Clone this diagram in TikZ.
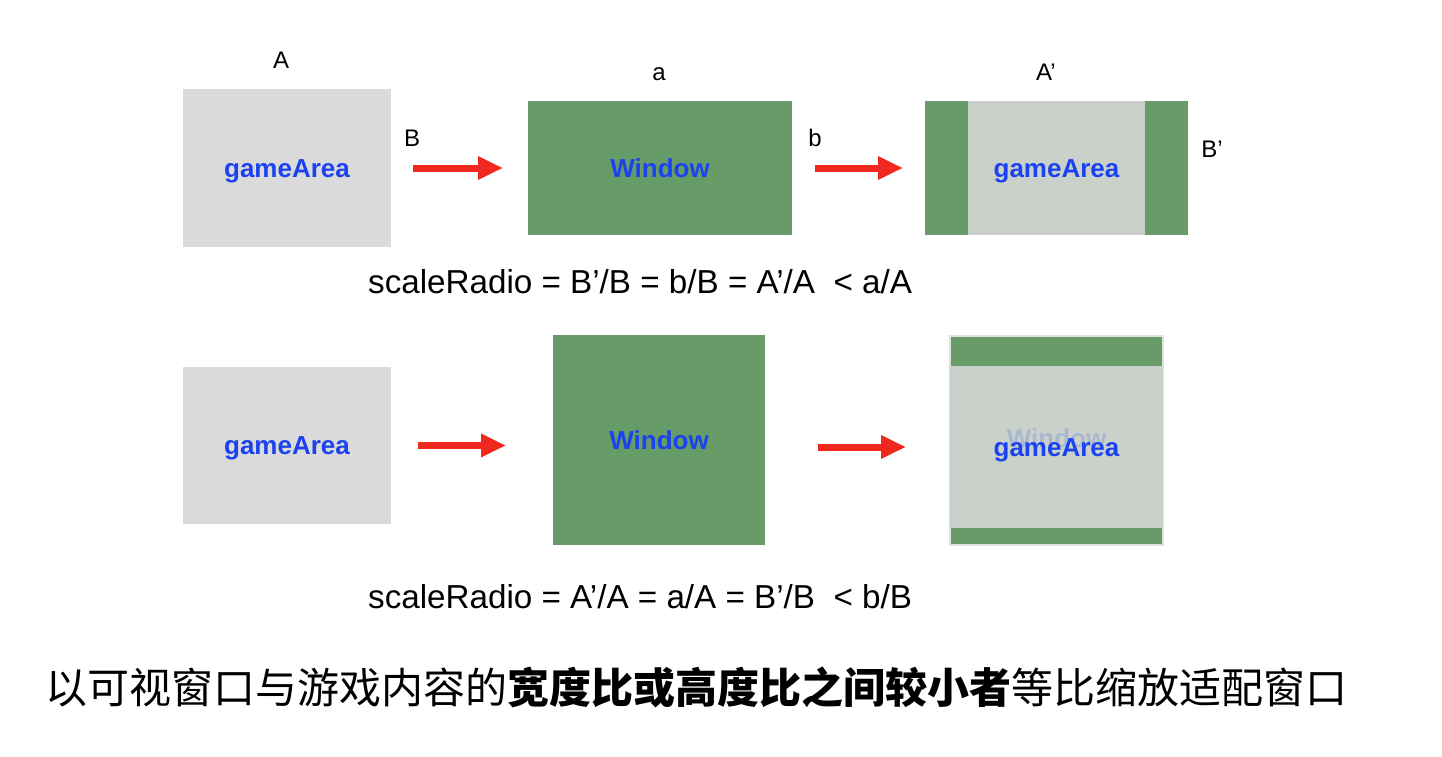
\documentclass[tikz,border=0pt]{standalone}
\usepackage{fontspec}
\setmainfont{Liberation Sans}
\newfontfamily\cjk{Noto Sans CJK SC}
\usetikzlibrary{arrows.meta}

\definecolor{areagrey}{RGB}{218,218,218}
\definecolor{fitgrey}{RGB}{202,209,202}
\definecolor{wingreen}{RGB}{103,155,103}
\definecolor{textblue}{RGB}{26,66,240}
\definecolor{arrowred}{RGB}{240,40,30}

\tikzset{
	box/.style={inner sep=0pt, outer sep=0pt, text=textblue,
		text height=18.6pt, text depth=0pt,
		font=\bfseries\fontsize{26}{30}\selectfont},
	gamebox/.style={box, fill=areagrey},
	windowbox/.style={box, fill=wingreen},
	fitbox/.style={box, fill=fitgrey},
	redarrow/.style={draw=arrowred, line width=7pt,
		-{Triangle[length=25pt,width=22pt]}},
	sidelabel/.style={inner sep=0pt, font=\fontsize{24}{28}\selectfont},
	formula/.style={inner sep=0pt, font=\fontsize{33.2}{40}\selectfont}
}

\begin{document}
\begin{tikzpicture}[x=1pt,y=-1pt]
	\useasboundingbox[fill=white] (0,0) rectangle (1442,757);

	\begin{scope} % wide window
		\node[gamebox, minimum width=208pt, minimum height=158pt] (g1) at (287,168) {gameArea};
		\node[windowbox, minimum width=264pt, minimum height=134pt] (w1) at (660,168) {Window};
		\node[windowbox, minimum width=263pt, minimum height=134pt] (f1) at (1056.5,168) {};
		\node[fitbox, minimum width=177pt, minimum height=134pt] (f1in) at (f1) {gameArea};

		\draw[redarrow, shorten <=22pt, shorten >=25pt] (g1.east) -- (w1.west);
		\draw[redarrow, shorten <=23pt, shorten >=22pt] (w1.east) -- (f1.west);

		\node[sidelabel] (lA) at (281,60) {A};
		\node[sidelabel] (lB) at (412,138) {B};
		\node[sidelabel] (la) at (659,74) {a};
		\node[sidelabel] (lb) at (815,138) {b};
		\node[sidelabel] (lA2) at (1046,72) {A’};
		\node[sidelabel] (lB2) at (1212,149) {B’};

		\node[formula, anchor=base west] (r1) at (368,293) {scaleRadio = B’/B = b/B = A’/A\ \ < a/A};
	\end{scope}

	\begin{scope} % tall window
		\node[gamebox, minimum width=208pt, minimum height=157pt] (g2) at (287,445.5) {gameArea};
		\node[windowbox, minimum width=212pt, minimum height=210pt] (w2) at (659,440) {Window};
		\node[windowbox, draw=black!12, line width=1.2pt, minimum width=213pt, minimum height=209pt] (f2) at (1056.5,440.5) {};
		\node[fitbox, minimum width=213pt, minimum height=162pt] (f2in) at (1056.5,447) {};
		\node[box, text=textblue!18!fitgrey] (ghost) at (1056.5,438) {Window};
		\node[box] (f2txt) at (f2in) {gameArea};

		\draw[redarrow, shorten <=27pt, shorten >=47pt] (g2.east) -- (g2.east -| w2.west);
		\draw[redarrow, shorten <=53pt, shorten >=44pt] (w2.east |- f2in) -- (f2in.west);

		\node[formula, anchor=base west] (r2) at (368,608) {scaleRadio = A’/A = a/A = B’/B\ \ < b/B};
	\end{scope}

	% caption
	\node[inner sep=0pt, anchor=base west, font=\cjk\fontsize{42}{50}\selectfont] (note) at (45,703)
		{以可视窗口与游戏内容的{\bfseries 宽度比或高度比之间较小者}等比缩放适配窗口};
\end{tikzpicture}
\end{document}
